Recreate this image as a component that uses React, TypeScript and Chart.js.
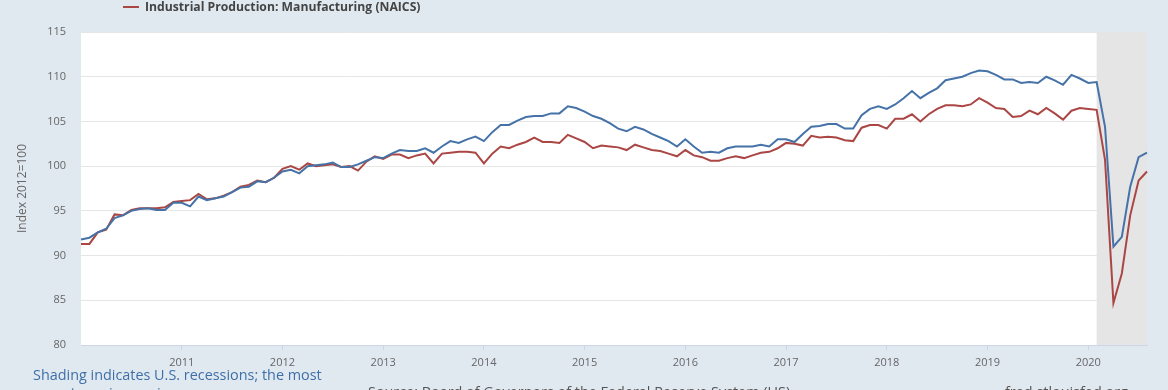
import React, { useEffect, useRef } from 'react';
import { Chart, registerables } from 'chart.js';
Chart.register(...registerables);

const YEARS = [2010, 2011, 2012, 2013, 2014, 2015, 2016, 2017, 2018, 2019, 2020];
const MONTHS = ['01', '02', '03', '04', '05', '06', '07', '08', '09', '10', '11', '12'];

// Industrial Production: Total Index (blue)
const TOTAL_INDEX = [
  91.8, 92.0, 92.6, 93.0, 94.2, 94.5, 95.0, 95.2, 95.3, 95.1, 95.1, 95.9,
  95.9, 95.5, 96.6, 96.2, 96.4, 96.6, 97.1, 97.6, 97.7, 98.3, 98.2, 98.7,
  99.4, 99.6, 99.2, 100.0, 100.1, 100.2, 100.4, 99.9, 99.9, 100.2, 100.6, 101.0,
  100.9, 101.4, 101.8, 101.7, 101.7, 102.0, 101.5, 102.2, 102.8, 102.6, 103.0, 103.3,
  102.8, 103.8, 104.6, 104.6, 105.1, 105.5, 105.6, 105.6, 105.9, 105.9, 106.7, 106.5,
  106.1, 105.6, 105.3, 104.8, 104.2, 103.9, 104.4, 104.1, 103.6, 103.2, 102.8, 102.2,
  103.0, 102.2, 101.5, 101.6, 101.5, 102.0, 102.2, 102.2, 102.2, 102.4, 102.2, 103.0,
  103.0, 102.7, 103.6, 104.4, 104.5, 104.7, 104.7, 104.2, 104.2, 105.7, 106.4, 106.7,
  106.4, 106.9, 107.6, 108.4, 107.6, 108.2, 108.7, 109.6, 109.8, 110.0, 110.4, 110.7,
  110.6, 110.2, 109.7, 109.7, 109.3, 109.4, 109.3, 110.0, 109.6, 109.1, 110.2, 109.8,
  109.3, 109.4, 104.4, 91.0, 92.1, 97.7, 101.0, 101.5,
];

// Industrial Production: Manufacturing (NAICS) (red)
const MANUFACTURING = [
  91.3, 91.3, 92.6, 92.9, 94.6, 94.5, 95.1, 95.3, 95.3, 95.3, 95.4, 96.0,
  96.1, 96.2, 96.9, 96.3, 96.4, 96.7, 97.1, 97.7, 97.9, 98.4, 98.2, 98.7,
  99.7, 100.0, 99.6, 100.3, 100.0, 100.1, 100.2, 99.9, 100.0, 99.5, 100.5, 101.1,
  100.8, 101.3, 101.3, 100.9, 101.2, 101.4, 100.3, 101.4, 101.5, 101.6, 101.6, 101.5,
  100.3, 101.4, 102.2, 102.0, 102.4, 102.7, 103.2, 102.7, 102.7, 102.6, 103.5, 103.1,
  102.7, 102.0, 102.3, 102.2, 102.1, 101.8, 102.4, 102.1, 101.8, 101.7, 101.4, 101.1,
  101.8, 101.2, 101.0, 100.6, 100.6, 100.9, 101.1, 100.9, 101.2, 101.5, 101.6, 102.0,
  102.6, 102.5, 102.3, 103.4, 103.2, 103.3, 103.2, 102.9, 102.8, 104.3, 104.6, 104.6,
  104.2, 105.3, 105.3, 105.8, 105.0, 105.8, 106.4, 106.8, 106.8, 106.7, 106.9, 107.6,
  107.1, 106.5, 106.4, 105.5, 105.6, 106.2, 105.8, 106.5, 105.9, 105.2, 106.2, 106.5,
  106.4, 106.3, 100.7, 84.7, 88.0, 94.5, 98.4, 99.4,
];

const Y_TICKS = [80, 85, 90, 95, 100, 105, 110, 115];
const RECESSION_START = '2020-02';

const LABELS = YEARS.flatMap((y) => MONTHS.map((m) => `${y}-${m}`)).slice(0, TOTAL_INDEX.length);

const BG = '#e1e9f0';
const TICK_FONT = { family: '"Open Sans", sans-serif', size: 11 };

export default function App() {
  const ref = useRef<HTMLCanvasElement>(null);
  useEffect(() => {
    document.body.style.margin = '0';
    const recessionPlugin = {
      id: 'bgAndRecession',
      beforeDraw(chart: any) {
        const { ctx, chartArea } = chart;
        ctx.save();
        ctx.fillStyle = '#ffffff';
        ctx.fillRect(chartArea.left, chartArea.top, chartArea.right - chartArea.left, chartArea.bottom - chartArea.top);
        ctx.restore();
      },
      beforeDatasetsDraw(chart: any) {
        const { ctx, chartArea, scales } = chart;
        const x0 = scales.x.getPixelForValue(LABELS.indexOf(RECESSION_START));
        ctx.save();
        ctx.fillStyle = '#e5e5e5';
        ctx.fillRect(x0, chartArea.top, chartArea.right - x0, chartArea.bottom - chartArea.top);
        ctx.restore();
      },
    };
    const chart = new Chart(ref.current!, {
      type: 'line',
      data: {
        labels: LABELS,
        datasets: [
          {
            label: 'Industrial Production: Total Index',
            data: TOTAL_INDEX,
            borderColor: '#4572a7',
            borderWidth: 2,
            pointRadius: 0,
            tension: 0,
          },
          {
            label: 'Industrial Production: Manufacturing (NAICS)',
            data: MANUFACTURING,
            borderColor: '#aa4643',
            borderWidth: 2,
            pointRadius: 0,
            tension: 0,
          },
        ],
      },
      options: {
        responsive: false,
        animation: false,
        devicePixelRatio: 1,
        layout: { padding: { top: 32, right: 21, left: 0, bottom: 0 } },
        plugins: { legend: { display: false }, tooltip: { enabled: false } },
        scales: {
          x: {
            type: 'category',
            offset: false,
            grid: { display: true, drawOnChartArea: false, drawTicks: true, tickLength: 5, tickColor: '#ccd6eb', color: '#ccd6eb' },
            border: { display: true, color: '#ccd6eb' },
            ticks: {
              autoSkip: false,
              maxRotation: 0,
              padding: 6,
              color: '#666666',
              font: TICK_FONT,
              callback: (_v: any, i: number) => {
                const l = LABELS[i];
                return l.endsWith('-01') && l !== LABELS[0] ? l.slice(0, 4) : null;
              },
            },
            afterFit: (s: any) => {
              s.height = 45;
            },
          },
          y: {
            min: Y_TICKS[0],
            max: Y_TICKS[Y_TICKS.length - 1],
            afterBuildTicks: (s: any) => {
              s.ticks = Y_TICKS.map((v) => ({ value: v }));
            },
            grid: { color: '#e6e6e6', drawTicks: false },
            border: { display: false },
            ticks: { padding: 15, color: '#666666', font: TICK_FONT },
            title: {
              display: true,
              text: 'Index 2012=100',
              color: '#666666',
              font: { family: '"Open Sans", sans-serif', size: 12 },
              padding: { top: 15, bottom: 0 },
            },
            afterFit: (s: any) => {
              s.width = 81;
            },
          },
        },
      },
      plugins: [recessionPlugin],
    });
    return () => chart.destroy();
  }, []);

  return (
    <div
      style={{
        position: 'fixed',
        left: 0,
        top: 0,
        width: 1168,
        height: 390,
        background: BG,
        overflow: 'hidden',
        fontFamily: '"Open Sans", sans-serif',
      }}
    >
      <canvas ref={ref} width={1168} height={390} style={{ position: 'absolute', left: 0, top: 0 }} />
      <div style={{ position: 'absolute', left: 123, top: 6, width: 16, height: 2, background: '#aa4643' }} />
      <div
        style={{
          position: 'absolute',
          left: 145,
          top: -2,
          fontSize: 12.2,
          fontWeight: 700,
          color: '#444',
          whiteSpace: 'nowrap',
        }}
      >
        Industrial Production: Manufacturing (NAICS)
      </div>
      <div
        style={{
          position: 'absolute',
          left: 33,
          top: 366,
          fontSize: 14.4,
          lineHeight: '18px',
          color: '#3d6fa9',
          whiteSpace: 'nowrap',
        }}
      >
        Shading indicates U.S. recessions; the most
        <br />
        recent one is ongoing
      </div>
      <div style={{ position: 'absolute', left: 368, top: 382, fontSize: 14.4, color: '#555', whiteSpace: 'nowrap' }}>
        Source: Board of Governors of the Federal Reserve System (US)
      </div>
      <div style={{ position: 'absolute', left: 1005, top: 382, fontSize: 14.4, color: '#555', whiteSpace: 'nowrap' }}>
        fred.stlouisfed.org
      </div>
    </div>
  );
}
